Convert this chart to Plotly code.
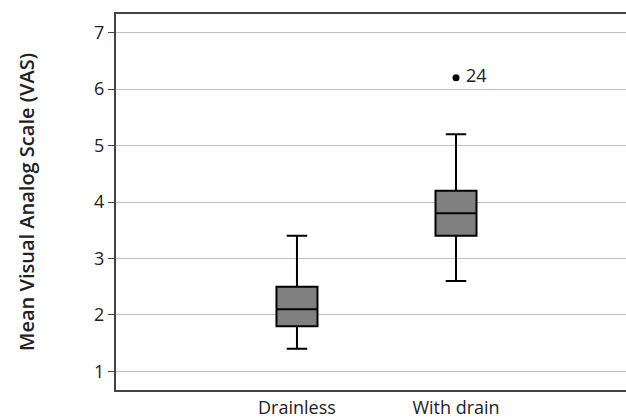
import plotly.graph_objects as go

categories = ["Drainless", "With drain"]
x_pos = [0, 1]
lower_whisker = [1.4, 2.6]
q1 = [1.8, 3.4]
median = [2.1, 3.8]
q3 = [2.5, 4.2]
upper_whisker = [3.4, 5.2]
outlier_x = [1]
outlier_y = [6.2]
outlier_label = ["24"]
y_ticks = [1, 2, 3, 4, 5, 6, 7]

font_family = "Open Sans, Noto Sans, sans-serif"

fig = go.Figure()
fig.add_trace(go.Box(
    x=x_pos,
    q1=q1, median=median, q3=q3,
    lowerfence=lower_whisker, upperfence=upper_whisker,
    width=0.258,
    whiskerwidth=0.5,
    fillcolor="#808080",
    line=dict(color="#000000", width=2),
    boxpoints=False,
    showlegend=False,
    hoverinfo="skip",
))
fig.add_trace(go.Scatter(
    x=outlier_x, y=outlier_y,
    mode="markers+text",
    marker=dict(color="#000000", size=7),
    text=[" " + t for t in outlier_label],
    textposition="middle right",
    textfont=dict(family=font_family, size=18, color="#222222"),
    showlegend=False,
    hoverinfo="skip",
))

fig.update_layout(
    width=626, height=419,
    margin=dict(l=116, r=0, t=14, b=27),
    paper_bgcolor="white",
    plot_bgcolor="white",
    font=dict(family=font_family, size=18, color="#222222"),
    xaxis=dict(
        range=[-1.138, 2.069],
        tickmode="array",
        tickvals=x_pos,
        ticktext=categories,
        showgrid=False,
        zeroline=False,
        showline=True,
        linecolor="#444444",
        linewidth=2,
        mirror=True,
        ticks="",
        tickfont=dict(size=18),
    ),
    yaxis=dict(
        range=[0.67, 7.33],
        tickmode="array",
        tickvals=y_ticks,
        showgrid=True,
        gridcolor="#c0c0c0",
        gridwidth=1,
        zeroline=False,
        showline=True,
        linecolor="#444444",
        linewidth=2,
        ticks="outside",
        ticklen=6,
        tickcolor="#444444",
        tickfont=dict(size=18),
        title=dict(text="Mean Visual Analog Scale (VAS)",
                   font=dict(size=20, weight=600), standoff=54),
    ),
)

fig.write_html(
    "out.html",
    config={"displayModeBar": False},
    post_script="document.body.style.margin='0';document.body.style.overflow='hidden';",
)
